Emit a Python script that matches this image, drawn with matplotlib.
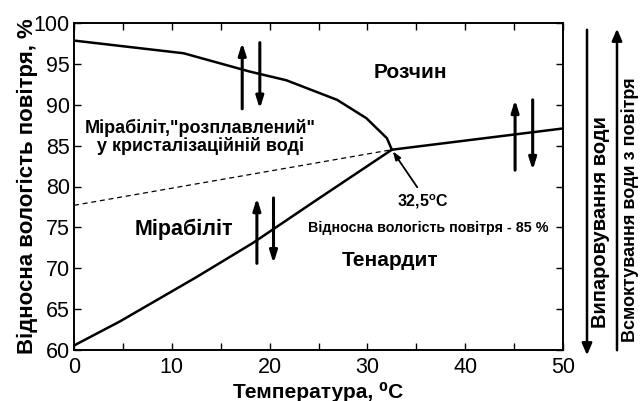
import matplotlib
matplotlib.use('Agg')
import matplotlib.pyplot as plt

plt.rcParams['font.family'] = ['Liberation Sans', 'DejaVu Sans']
plt.rcParams['mathtext.fontset'] = 'custom'
plt.rcParams['mathtext.rm'] = 'Liberation Sans:bold'
plt.rcParams['mathtext.bf'] = 'Liberation Sans:bold'

# mirabilite / solution boundary
upper_t = [0, 11.2, 18.0, 21.7, 26.9, 29.9, 32.0, 32.5]
upper_rh = [97.85, 96.3, 94.05, 93.0, 90.6, 88.35, 85.9, 84.5]
# thenardite / solution boundary
right_t = [32.5, 50]
right_rh = [84.5, 87.1]
# mirabilite / thenardite boundary
lower_t = [0, 4.7, 12.5, 18.3, 24.8, 32.5]
lower_rh = [60.55, 63.5, 68.9, 73.1, 78.35, 84.5]
# metastable extension (dashed)
dash_t = [0, 32.5]
dash_rh = [77.7, 84.5]

# up/down arrow pairs: (x_up, x_down, low, high)
arrow_pairs = [(17.2, 19.0, 89.5, 97.6),
               (18.7, 20.4, 70.6, 78.6),
               (45.1, 46.9, 82.0, 90.6)]

fig = plt.figure(figsize=(6.4, 4.01), dpi=100)
ax = fig.add_axes([74 / 640, 1 - 350 / 401, 489 / 640, 327 / 401])

ax.plot(upper_t, upper_rh, color='black', lw=1.8)
ax.plot(right_t, right_rh, color='black', lw=1.8)
ax.plot(lower_t, lower_rh, color='black', lw=1.8)
ax.plot(dash_t, dash_rh, color='black', lw=0.9, ls=(0, (4, 3)))

for xu, xd, lo, hi in arrow_pairs:
    ax.annotate('', xy=(xu, hi), xytext=(xu, lo),
                arrowprops=dict(arrowstyle='-|>,head_length=0.7,head_width=0.22',
                                color='black', lw=2.2, shrinkA=0, shrinkB=0))
    ax.annotate('', xy=(xd, lo), xytext=(xd, hi),
                arrowprops=dict(arrowstyle='-|>,head_length=0.7,head_width=0.22',
                                color='black', lw=2.2, shrinkA=0, shrinkB=0))

ax.set_xlim(0, 50)
ax.set_ylim(60, 100)
ax.set_xticks([0, 10, 20, 30, 40, 50])
ax.set_xticks([5, 15, 25, 35, 45], minor=True)
ax.set_yticks([60, 65, 70, 75, 80, 85, 90, 95, 100])
ax.tick_params(which='both', direction='in', top=True, right=True,
               length=5, width=1.0, labelsize=15.5, pad=3)
ax.tick_params(axis='x', pad=5)
for s in ax.spines.values():
    s.set_linewidth(1.4)

ax.set_xlabel('Температура, ⁰C', fontsize=15, fontweight='bold', labelpad=3)
ax.set_ylabel('Відносна вологість повітря, %', fontsize=16, fontweight='bold', labelpad=-3)

ax.text(34.4, 93.9, 'Розчин', fontsize=15, fontweight='bold', ha='center', va='center')
ax.text(12.9, 86.05, 'Мірабіліт,"розплавлений"\nу кристалізаційній воді',
        fontsize=13, fontweight='bold', ha='center', va='center', linespacing=1.05)
ax.text(11.25, 74.8, 'Мірабіліт', fontsize=15.5, fontweight='bold', ha='center', va='center')
ax.text(32.3, 71.0, 'Тенардит', fontsize=15, fontweight='bold', ha='center', va='center')
ax.text(35.7, 78.1, '32,5$^\\mathrm{o}$C', fontsize=11.5, fontweight='bold', ha='center', va='center')
ax.text(36.2, 74.9, 'Відносна вологість повітря - 85 %', fontsize=10.3, fontweight='bold',
        ha='center', va='center')
ax.annotate('', xy=(32.6, 84.3), xytext=(35.1, 79.9),
            arrowprops=dict(arrowstyle='-|>,head_length=0.5,head_width=0.18',
                            color='black', lw=1.3, shrinkA=0, shrinkB=0))

# side arrows outside the axes
fig.add_artist(matplotlib.patches.FancyArrowPatch(
    (587 / 640, 1 - 27 / 401), (587 / 640, 1 - 358 / 401), transform=fig.transFigure,
    arrowstyle='-|>,head_length=7,head_width=3', color='black', lw=1.8))
fig.add_artist(matplotlib.patches.FancyArrowPatch(
    (617 / 640, 1 - 353 / 401), (617 / 640, 1 - 26 / 401), transform=fig.transFigure,
    arrowstyle='-|>,head_length=7,head_width=3', color='black', lw=1.8))
fig.text(600 / 640, 1 - 222 / 401, 'Випаровування води', rotation=90, fontsize=14.5,
         fontweight='bold', ha='center', va='center')
fig.text(630 / 640, 1 - 210 / 401, 'Всмоктування води з повітря', rotation=90, fontsize=13,
         fontweight='bold', ha='center', va='center')

fig.savefig('out.png', dpi=100)
